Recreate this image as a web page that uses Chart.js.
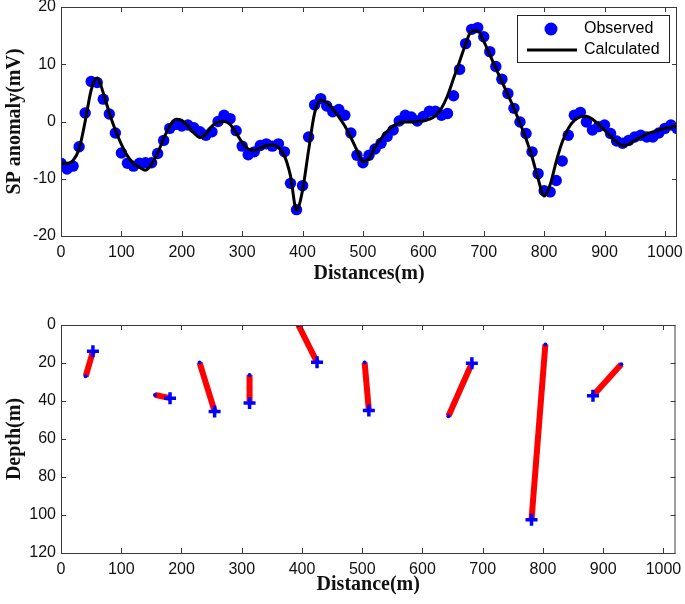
<!DOCTYPE html>
<html>
<head>
<meta charset="utf-8">
<script src="https://cdn.jsdelivr.net/npm/chart.js@4"></script>
<style>
  body { margin: 0; background: #fff; }
  #wrap { position: relative; width: 685px; height: 604px; }
  canvas { position: absolute; left: 0; }
  #spChart { top: 0; }
  #depthChart { top: 300px; }
</style>
</head>
<body>
<div id="wrap">
  <canvas id="spChart" width="685" height="300"></canvas>
  <canvas id="depthChart" width="685" height="304"></canvas>
</div>
<script>
// ---- data ----
const distTicks = [0, 100, 200, 300, 400, 500, 600, 700, 800, 900, 1000];
const spTicks = [-20, -10, 0, 10, 20];
const depthTicks = [0, 20, 40, 60, 80, 100, 120];

const obsX = [0, 10, 20, 30, 40, 50, 60, 70, 80, 90, 100, 110, 120, 130, 140, 150, 160, 170, 180, 190,
  200, 210, 220, 230, 240, 250, 260, 270, 280, 290, 300, 310, 320, 330, 340, 350, 360, 370, 380, 390,
  400, 410, 420, 430, 440, 450, 460, 470, 480, 490, 500, 510, 520, 530, 540, 550, 560, 570, 580, 590,
  600, 610, 620, 630, 640, 650, 660, 670, 680, 690, 700, 710, 720, 730, 740, 750, 760, 770, 780, 790,
  800, 810, 820, 830, 840, 850, 860, 870, 880, 890, 900, 910, 920, 930, 940, 950, 960, 970, 980, 990,
  1000, 1010, 1020];
const obsSP = [-7.3, -8.3, -7.8, -4.4, 1.5, 7.0, 6.8, 3.9, 1.3, -2.0, -5.5, -7.3, -7.8, -7.3, -7.2, -7.2, -5.6, -3.3, -1.2, -0.5,
  -0.8, -0.6, -1.1, -1.8, -2.4, -1.8, 0.0, 1.1, 0.5, -1.6, -4.3, -5.8, -5.3, -4.2, -3.9, -4.3, -3.9, -5.3, -10.8, -15.4,
  -11.2, -2.7, 2.9, 4.0, 2.7, 1.7, 2.1, 1.1, -2.0, -5.9, -7.2, -5.9, -4.8, -3.8, -2.6, -1.5, 0.1, 1.1, 0.8, 0.1,
  0.9, 1.8, 1.8, 1.1, 1.4, 4.5, 9.1, 13.6, 16.1, 16.4, 14.8, 12.2, 9.6, 7.4, 4.9, 2.3, -0.1, -2.1, -5.3, -9.1,
  -12.1, -12.3, -10.3, -6.9, -2.4, 1.1, 1.6, -0.1, -1.5, -0.9, -0.6, -2.1, -3.4, -3.8, -3.3, -2.7, -2.4, -2.7, -2.7, -2.0,
  -1.2, -0.6, -1.2];
const calcSP = [-7.3, -7.3, -6.8, -4.8, 0.0, 5.5, 7.6, 5.0, 1.5, -1.5, -4.0, -6.0, -7.3, -8.0, -8.5, -7.5, -5.5, -3.0, -0.8, 0.4,
  0.2, -0.8, -2.0, -2.8, -2.2, -0.8, -0.1, 0.0, -0.5, -2.0, -3.7, -4.8, -5.0, -4.6, -4.2, -4.1, -4.5, -6.0, -9.5, -15.5,
  -12.0, -5.0, 1.5, 3.7, 3.3, 2.2, 0.8, -0.8, -2.8, -5.0, -7.0, -6.5, -4.5, -3.0, -1.7, -0.8, -0.3, -0.1, -0.1, 0.0,
  0.1, 0.4, 1.0, 2.3, 4.5, 7.5, 10.5, 13.5, 15.8, 15.8, 14.0, 11.7, 9.3, 7.0, 4.7, 2.3, -0.3, -3.0, -6.2, -10.0,
  -13.0, -11.0, -7.0, -3.6, -1.2, 0.2, 0.8, 0.9, 0.4, -0.5, -1.5, -2.6, -3.6, -4.2, -4.0, -3.3, -2.7, -2.2, -1.8, -1.5,
  -1.2, -1.0, -0.8];

// source bodies: end with the cross marker, and the other end
const crossX = [53, 181, 255, 313, 425, 511, 682, 781, 883];
const crossDepth = [13.8, 38.5, 45.5, 41, 19.6, 45, 20.1, 102.5, 37.3];
const endX = [41, 156, 230, 313, 394, 504, 643, 804, 930];
const endDepth = [27, 36.8, 19.8, 26.3, 0, 19.8, 48, 10.2, 20.7];

// ---- helpers ----
const tickFont = { family: "'Liberation Sans', Arial, sans-serif", size: 16 };
const titleFont = { family: "'Liberation Serif', 'Times New Roman', serif", size: 20, weight: 'bold' };
const axisColor = '#3a3a3a';

function fixedTicks(list) {
  return function (scale) { scale.ticks = list.map(v => ({ value: v })); };
}

// box round the plot area + inward ticks on all four sides (matlab look)
const boxPlugin = {
  id: 'boxTicks',
  afterDraw(chart) {
    const { ctx, chartArea: a, scales } = chart;
    ctx.save();
    ctx.strokeStyle = axisColor;
    ctx.lineWidth = 1;
    ctx.strokeRect(a.left + 0.5, a.top + 0.5, a.right - a.left - 1, a.bottom - a.top);
    const len = 5;
    ctx.beginPath();
    scales.x.ticks.forEach(t => {
      const px = Math.round(scales.x.getPixelForValue(t.value)) + 0.5;
      ctx.moveTo(px, a.bottom); ctx.lineTo(px, a.bottom - len);
      ctx.moveTo(px, a.top); ctx.lineTo(px, a.top + len);
    });
    scales.y.ticks.forEach(t => {
      const py = Math.round(scales.y.getPixelForValue(t.value)) + 0.5;
      ctx.moveTo(a.left, py); ctx.lineTo(a.left + len, py);
      ctx.moveTo(a.right, py); ctx.lineTo(a.right - len, py);
    });
    ctx.stroke();
    ctx.restore();
  }
};

// legend in the upper right corner of the SP plot
const legendPlugin = {
  id: 'spLegend',
  afterDraw(chart) {
    const ctx = chart.ctx;
    ctx.save();
    ctx.fillStyle = '#fff';
    ctx.fillRect(517, 15, 152, 47);
    ctx.strokeStyle = '#222';
    ctx.lineWidth = 1;
    ctx.strokeRect(517.5, 15.5, 152, 47);
    ctx.fillStyle = '#0000ff';
    ctx.beginPath();
    ctx.arc(551, 29, 6.5, 0, Math.PI * 2);
    ctx.fill();
    ctx.strokeStyle = '#000';
    ctx.lineWidth = 3;
    ctx.beginPath();
    ctx.moveTo(527, 50); ctx.lineTo(577, 50);
    ctx.stroke();
    ctx.fillStyle = '#000';
    ctx.font = "16px 'Liberation Sans', Arial, sans-serif";
    ctx.textBaseline = 'middle';
    ctx.fillText('Observed', 584, 29);
    ctx.fillText('Calculated', 584, 50);
    ctx.restore();
  }
};

function axisX(titleText, height, titlePad) {
  return {
    type: 'linear', min: 0, max: 1020,
    afterBuildTicks: fixedTicks(distTicks),
    afterFit(scale) { scale.height = height; scale.paddingLeft = 0; scale.paddingRight = 0; },
    grid: { display: false, drawTicks: false, tickLength: 0 },
    border: { display: false },
    ticks: { font: tickFont, color: '#111', padding: 7, maxRotation: 0, callback: v => String(v) },
    title: { display: true, text: titleText, font: titleFont, color: '#111', padding: { top: 0, bottom: titlePad } }
  };
}

function axisY(titleText, min, max, list, reverse) {
  return {
    type: 'linear', min: min, max: max, reverse: reverse,
    afterBuildTicks: fixedTicks(list),
    afterFit(scale) { scale.width = 61; scale.paddingTop = 0; scale.paddingBottom = 0; },
    grid: { display: false, drawTicks: false, tickLength: 0 },
    border: { display: false },
    ticks: { font: tickFont, color: '#111', padding: 5, callback: v => String(v) },
    title: { display: true, text: titleText, font: titleFont, color: '#111', padding: { top: 3, bottom: 0 } }
  };
}

// ---- SP anomaly chart ----
new Chart(document.getElementById('spChart'), {
  type: 'scatter',
  data: {
    datasets: [
      {
        label: 'Calculated',
        data: obsX.map((x, i) => ({ x: x, y: calcSP[i] })),
        showLine: true,
        borderColor: '#000',
        borderWidth: 3,
        pointRadius: 0,
        tension: 0.4,
        cubicInterpolationMode: 'monotone'
      },
      {
        label: 'Observed',
        data: obsX.map((x, i) => ({ x: x, y: obsSP[i] })),
        backgroundColor: '#0000ff',
        borderColor: '#0000ff',
        pointRadius: 5.7,
        borderWidth: 0
      }
    ]
  },
  options: {
    responsive: false,
    animation: false,
    layout: { padding: { left: 0, right: 8, top: 7, bottom: 0 } },
    plugins: { legend: { display: false }, tooltip: { enabled: false } },
    scales: {
      x: axisX('Distances(m)', 64, 14),
      y: axisY('SP anomaly(mV)', -20, 20, spTicks, false)
    }
  },
  plugins: [boxPlugin, legendPlugin]
});

// ---- depth section chart ----
const depthSets = [
  {
    label: 'cross',
    data: crossX.map((x, i) => ({ x: x, y: crossDepth[i] })),
    pointStyle: 'cross',
    pointRadius: 6,
    borderColor: '#0000ff',
    borderWidth: 3.5
  },
  {
    label: 'end',
    data: endX.map((x, i) => ({ x: x, y: endDepth[i] })),
    pointRadius: 2,
    backgroundColor: '#0000ff',
    borderWidth: 0
  }
];
crossX.forEach((x, i) => {
  depthSets.push({
    label: 'body ' + (i + 1),
    data: [{ x: x, y: crossDepth[i] }, { x: endX[i], y: endDepth[i] }],
    showLine: true,
    borderColor: '#ff0000',
    borderWidth: 6,
    borderCapStyle: 'butt',
    pointRadius: 0
  });
});

new Chart(document.getElementById('depthChart'), {
  type: 'scatter',
  data: { datasets: depthSets },
  options: {
    responsive: false,
    animation: false,
    layout: { padding: { left: 0, right: 8, top: 25, bottom: 0 } },
    plugins: { legend: { display: false }, tooltip: { enabled: false } },
    scales: {
      x: axisX('Distance(m)', 51, 7),
      y: axisY('Depth(m)', 0, 120, depthTicks, true)
    }
  },
  plugins: [boxPlugin]
});
</script>
</body>
</html>
